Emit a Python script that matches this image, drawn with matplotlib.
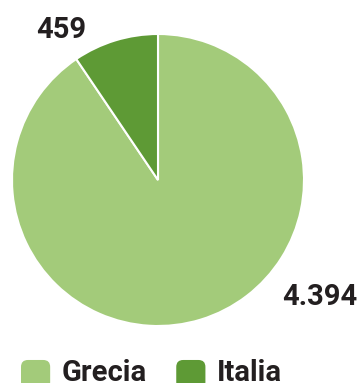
import matplotlib
matplotlib.use("Agg")
import matplotlib.pyplot as plt
from matplotlib.patches import FancyBboxPatch
from matplotlib.legend_handler import HandlerPatch

labels = ["Grecia", "Italia"]
values = [4394, 459]
value_text = ["4.394", "459"]
colors = ["#a3cb7a", "#5e9a35"]
text_color = "#231f20"

plt.rcParams["font.family"] = ["Roboto", "DejaVu Sans"]


class RoundHandler(HandlerPatch):
    def create_artists(self, legend, orig_handle, xdescent, ydescent,
                       width, height, fontsize, trans):
        p = FancyBboxPatch((-xdescent + 2, -ydescent - 4 + 2), width - 4, width - 4,
                           boxstyle="round,pad=2,rounding_size=5",
                           facecolor=orig_handle.get_facecolor(),
                           edgecolor="none", transform=trans)
        return [p]


fig = plt.figure(figsize=(3.62, 3.83), dpi=100)
ax = fig.add_axes([12 / 362, 57 / 383, 292 / 362, 292 / 383])

wedges, _ = ax.pie(values, colors=colors, startangle=90, counterclock=False,
                   wedgeprops=dict(edgecolor="white", linewidth=1.5))
ax.set_xlim(-1, 1)
ax.set_ylim(-1, 1)
ax.set_aspect("equal")
ax.axis("off")

# value labels
ax.text(1.11, -0.80, value_text[0], ha="center", va="center", fontsize=21,
        fontweight="bold", color=text_color, clip_on=False)
ax.text(-0.66, 1.03, value_text[1], ha="center", va="center", fontsize=21,
        fontweight="bold", color=text_color, clip_on=False)

leg = fig.legend(wedges, labels, loc="center left",
                 bbox_to_anchor=(21 / 362, 1 - 372 / 383), ncol=2,
                 frameon=False, fontsize=21, handlelength=1.0,
                 handleheight=1.0, handletextpad=0.4, columnspacing=1.0,
                 borderpad=0, borderaxespad=0,
                 handler_map={w: RoundHandler() for w in wedges},
                 prop={"weight": "bold", "size": 21})
for t in leg.get_texts():
    t.set_color(text_color)

fig.savefig("out.png", dpi=100)
